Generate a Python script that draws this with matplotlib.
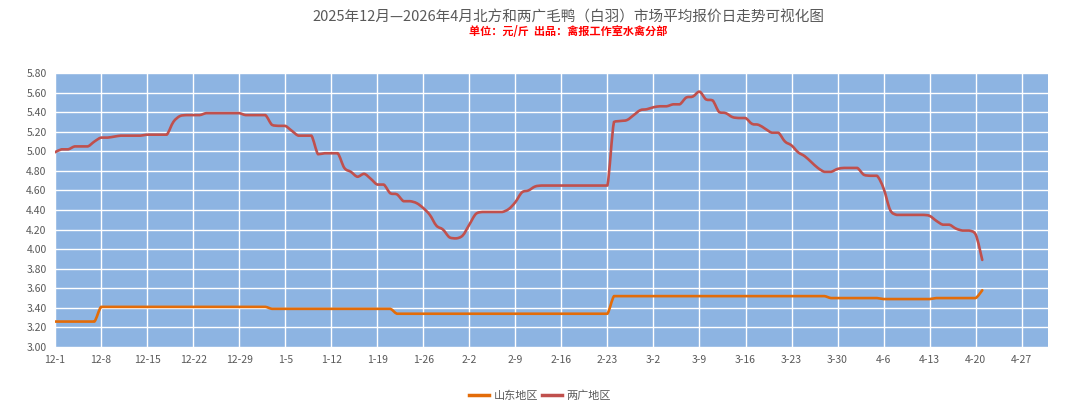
import numpy as np
import matplotlib
matplotlib.use("Agg")
import matplotlib.pyplot as plt
from matplotlib.path import Path
from matplotlib.patches import PathPatch

plt.rcParams['font.family'] = ['Noto Sans CJK SC', 'DejaVu Sans']

# 两广地区 daily price, 12-1 .. 4-22 (one row = one week)
liangguang = [
    4.99, 5.02, 5.02, 5.05, 5.05, 5.05, 5.10,
    5.14, 5.14, 5.15, 5.16, 5.16, 5.16, 5.16,
    5.17, 5.17, 5.17, 5.17, 5.30, 5.36, 5.37,
    5.37, 5.37, 5.39, 5.39, 5.39, 5.39, 5.39,
    5.39, 5.37, 5.37, 5.37, 5.37, 5.27, 5.26,
    5.26, 5.21, 5.16, 5.16, 5.16, 4.97, 4.98,
    4.98, 4.98, 4.83, 4.79, 4.74, 4.77, 4.72,
    4.66, 4.66, 4.57, 4.56, 4.49, 4.49, 4.47,
    4.42, 4.35, 4.24, 4.20, 4.12, 4.11, 4.14,
    4.25, 4.36, 4.38, 4.38, 4.38, 4.38, 4.41,
    4.48, 4.58, 4.60, 4.64, 4.65, 4.65, 4.65,
    4.65, 4.65, 4.65, 4.65, 4.65, 4.65, 4.65,
    4.65, 5.30, 5.31, 5.32, 5.37, 5.42, 5.43,
    5.45, 5.46, 5.46, 5.48, 5.48, 5.55, 5.56,
    5.61, 5.53, 5.52, 5.40, 5.39, 5.35, 5.34,
    5.34, 5.28, 5.27, 5.23, 5.19, 5.19, 5.10,
    5.06, 4.99, 4.95, 4.89, 4.83, 4.79, 4.79,
    4.82, 4.83, 4.83, 4.83, 4.76, 4.75, 4.75,
    4.62, 4.40, 4.35, 4.35, 4.35, 4.35, 4.35,
    4.34, 4.29, 4.25, 4.25, 4.21, 4.19, 4.19,
    4.15, 3.89,
]

# 山东地区 daily price
shandong = [
    3.26, 3.26, 3.26, 3.26, 3.26, 3.26, 3.26,
    3.41, 3.41, 3.41, 3.41, 3.41, 3.41, 3.41,
    3.41, 3.41, 3.41, 3.41, 3.41, 3.41, 3.41,
    3.41, 3.41, 3.41, 3.41, 3.41, 3.41, 3.41,
    3.41, 3.41, 3.41, 3.41, 3.41, 3.39, 3.39,
    3.39, 3.39, 3.39, 3.39, 3.39, 3.39, 3.39,
    3.39, 3.39, 3.39, 3.39, 3.39, 3.39, 3.39,
    3.39, 3.39, 3.39, 3.34, 3.34, 3.34, 3.34,
    3.34, 3.34, 3.34, 3.34, 3.34, 3.34, 3.34,
    3.34, 3.34, 3.34, 3.34, 3.34, 3.34, 3.34,
    3.34, 3.34, 3.34, 3.34, 3.34, 3.34, 3.34,
    3.34, 3.34, 3.34, 3.34, 3.34, 3.34, 3.34,
    3.34, 3.52, 3.52, 3.52, 3.52, 3.52, 3.52,
    3.52, 3.52, 3.52, 3.52, 3.52, 3.52, 3.52,
    3.52, 3.52, 3.52, 3.52, 3.52, 3.52, 3.52,
    3.52, 3.52, 3.52, 3.52, 3.52, 3.52, 3.52,
    3.52, 3.52, 3.52, 3.52, 3.52, 3.52, 3.50,
    3.50, 3.50, 3.50, 3.50, 3.50, 3.50, 3.50,
    3.49, 3.49, 3.49, 3.49, 3.49, 3.49, 3.49,
    3.49, 3.50, 3.50, 3.50, 3.50, 3.50, 3.50,
    3.50, 3.58,
]

week_labels = ["12-1", "12-8", "12-15", "12-22", "12-29", "1-5", "1-12", "1-19",
               "1-26", "2-2", "2-9", "2-16", "2-23", "3-2", "3-9", "3-16",
               "3-23", "3-30", "4-6", "4-13", "4-20", "4-27"]

yticks = np.arange(3.0, 5.81, 0.2)

days = np.arange(len(liangguang))
gray = "#595959"


def smooth_path(x, y):
    # smoothed line like excel, control points kept inside each segment
    # so the steps don't overshoot
    p = np.column_stack([x, y]).astype(float)
    pp = np.vstack([p[0], p, p[-1]])
    verts = [p[0]]
    codes = [Path.MOVETO]
    for i in range(len(p) - 1):
        a, b = pp[i + 1], pp[i + 2]
        c1 = a + (pp[i + 2] - pp[i]) / 6.0
        c2 = b - (pp[i + 3] - pp[i + 1]) / 6.0
        lo, hi = min(a[1], b[1]), max(a[1], b[1])
        c1[1] = np.clip(c1[1], lo, hi)
        c2[1] = np.clip(c2[1], lo, hi)
        verts += [c1, c2, b]
        codes += [Path.CURVE4] * 3
    return Path(verts, codes)


fig = plt.figure(figsize=(10.8, 4.13), dpi=100)
ax = fig.add_axes([0.0509, 0.1598, 0.9195, 0.6634])
ax.set_facecolor("#8DB4E2")

for vals, col, name in [(shandong, "#E36C09", "山东地区"),
                        (liangguang, "#C0504D", "两广地区")]:
    ax.add_patch(PathPatch(smooth_path(days, vals), fill=False, edgecolor=col,
                           lw=1.9, joinstyle="round", capstyle="round", zorder=3))
    ax.plot([], [], color=col, lw=2.5, label=name)

ax.set_xlim(0, 151)
ax.set_ylim(3.0, 5.8)
ax.set_xticks(np.arange(len(week_labels)) * 7)
ax.set_xticklabels(week_labels)
ax.set_yticks(yticks)
ax.set_yticklabels(["%.2f" % v for v in yticks])
ax.tick_params(axis="both", length=0, labelsize=7.5, colors=gray)
ax.tick_params(axis="x", pad=6)
ax.tick_params(axis="y", pad=6)

ax.grid(True, color="white", lw=1.0)
ax.set_axisbelow(True)
for s in ax.spines.values():
    s.set_visible(False)

fig.text(0.526, 0.958, "2025年12月—2026年4月北方和两广毛鸭（白羽）市场平均报价日走势可视化图",
         ha="center", va="center", fontsize=10.5, color=gray)
fig.text(0.526, 0.924, "单位：元/斤  出品：禽报工作室水禽分部",
         ha="center", va="center", fontsize=8, color="#FF0000", fontweight="bold")

fig.legend(loc="center", bbox_to_anchor=(0.5, 0.042), ncol=2, frameon=False,
           fontsize=8, labelcolor=gray, handlelength=1.8, columnspacing=0.4,
           handletextpad=0.4)

fig.savefig("out.png", dpi=100, facecolor="white")
